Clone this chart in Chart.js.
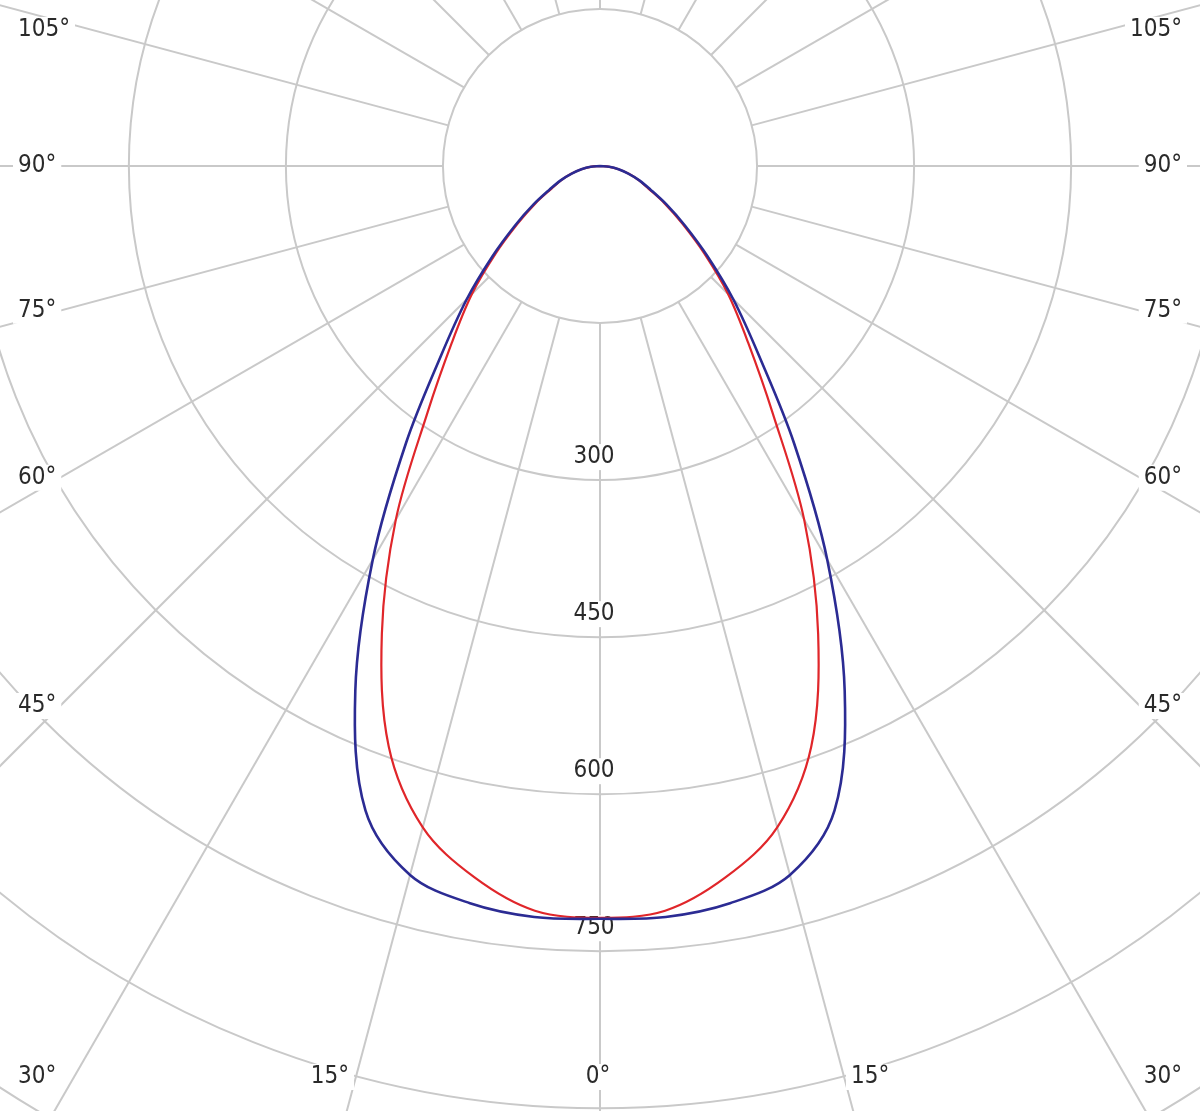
<!DOCTYPE html>
<html>
<head>
<meta charset="utf-8">
<script src="https://cdn.jsdelivr.net/npm/chart.js@4.4.1/dist/chart.umd.min.js"></script>
<style>
  html, body { margin: 0; padding: 0; background: #ffffff; }
  #polar { display: block; }
</style>
</head>
<body>
<canvas id="polar" width="1200" height="1111"></canvas>
<script>
// gamma angles (0 = straight down), intensity per plane, symmetric left/right
const angles = [0, 5, 10, 15, 20, 25, 30, 35, 40, 45, 50, 55, 60, 65, 70, 75, 80, 85, 90];
const blueValues = [719, 720, 715, 701, 655, 553, 434, 323, 236, 180, 134, 99, 73, 53, 40, 28, 18, 9, 0];
const redValues  = [718, 714, 690, 654, 590, 493, 390, 287, 220, 173, 130, 96, 71, 51, 39, 28, 18, 9, 0];

const ringValues = [150, 300, 450, 600, 750, 900, 1050];
const ringLabels = ['300', '450', '600', '750'];
const angleLabels = [0, 15, 30, 45, 60, 75, 90, 105];

const W = 1200, H = 1111;
const centerX = 600, centerY = 166;
const pxPerUnit = 1.047;

const gridColor = '#c9c9c9';
const textColor = '#2a2a2a';
const labelFont = '24px "DejaVu Sans Condensed", "DejaVu Sans", sans-serif';

function toPoints(values, side) {
    return values.map((v, i) => {
        const t = angles[i] * Math.PI / 180;
        return { x: side * v * Math.sin(t), y: -v * Math.cos(t) };
    });
}

// whole curve: left half from 90° down to 0°, then right half 0° up to 90°
function curve(values) {
    const left = toPoints(values, -1).reverse();
    const right = toPoints(values, 1).slice(1);
    return left.concat(right);
}

function labelBox(ctx, text, x, y, align) {
    const w = ctx.measureText(text).width;
    let left = x - w / 2;
    if (align === 'left') left = x;
    if (align === 'right') left = x - w;
    ctx.fillStyle = '#ffffff';
    ctx.fillRect(left - 5, y - 13, w + 10, 26);
    ctx.fillStyle = textColor;
    ctx.textAlign = 'left';
    ctx.fillText(text, left, y);
}

const polarGrid = {
    id: 'polarGrid',
    beforeDatasetsDraw(chart) {
        const { ctx, scales: { x, y } } = chart;
        const cx = x.getPixelForValue(0);
        const cy = y.getPixelForValue(0);
        const unit = x.getPixelForValue(1) - cx;
        const r0 = ringValues[0] * unit;

        ctx.save();
        ctx.strokeStyle = gridColor;
        ctx.lineWidth = 2;
        ringValues.forEach(v => {
            ctx.beginPath();
            ctx.arc(cx, cy, v * unit, 0, Math.PI * 2);
            ctx.stroke();
        });
        for (let a = 0; a < 360; a += 15) {
            const t = a * Math.PI / 180;
            const dx = Math.sin(t), dy = Math.cos(t);
            ctx.beginPath();
            ctx.moveTo(cx + dx * r0, cy + dy * r0);
            ctx.lineTo(cx + dx * 2000, cy + dy * 2000);
            ctx.stroke();
        }

        ctx.font = labelFont;
        ctx.textBaseline = 'middle';

        // intensity labels on the 0° axis
        ringLabels.forEach(lbl => {
            const py = y.getPixelForValue(-Number(lbl)) - 23;
            labelBox(ctx, lbl, cx - 6, py, 'center');
        });

        // angle labels at the picture edges
        const area = chart.chartArea;
        angleLabels.forEach(a => {
            const t = a * Math.PI / 180;
            const txt = a + '°';
            [-1, 1].forEach(side => {
                if (a === 0 && side === 1) return;
                const bottomY = area.bottom - 34;
                const dy = Math.cos(t), dx = Math.sin(t);
                const tb = dy > 0 ? (bottomY - cy) / dy : Infinity;
                const bx = cx + side * dx * tb;
                if (a < 30) {
                    const shift = a > 0 ? side * 26 : -2;
                    labelBox(ctx, txt, bx + shift, bottomY, 'center');
                } else {
                    const edgeX = side < 0 ? area.left + 60 : area.right - 60;
                    const ts = Math.abs(edgeX - cx) / dx;
                    let ly = cy + dy * ts;
                    ly = Math.max(area.top + 30, Math.min(bottomY, ly));
                    if (side < 0) labelBox(ctx, txt, area.left + 18, ly, 'left');
                    else labelBox(ctx, txt, area.right - 18, ly, 'right');
                }
            });
        });
        ctx.restore();
    }
};

new Chart(document.getElementById('polar'), {
    type: 'scatter',
    data: {
        datasets: [
            {
                label: 'C90-C270',
                data: curve(blueValues),
                showLine: true,
                borderColor: '#2b2b93',
                borderWidth: 2.6,
                pointRadius: 0,
                tension: 0.34
            },
            {
                label: 'C0-C180',
                data: curve(redValues),
                showLine: true,
                borderColor: '#e0262a',
                borderWidth: 2.2,
                pointRadius: 0,
                tension: 0.34
            }
        ]
    },
    options: {
        responsive: false,
        animation: false,
        devicePixelRatio: 1,
        layout: { padding: 0 },
        plugins: {
            legend: { display: false },
            tooltip: { enabled: false }
        },
        scales: {
            x: {
                type: 'linear',
                display: false,
                min: -centerX / pxPerUnit,
                max: (W - centerX) / pxPerUnit
            },
            y: {
                type: 'linear',
                display: false,
                min: -(H - centerY) / pxPerUnit,
                max: centerY / pxPerUnit
            }
        }
    },
    plugins: [polarGrid]
});
</script>
</body>
</html>
